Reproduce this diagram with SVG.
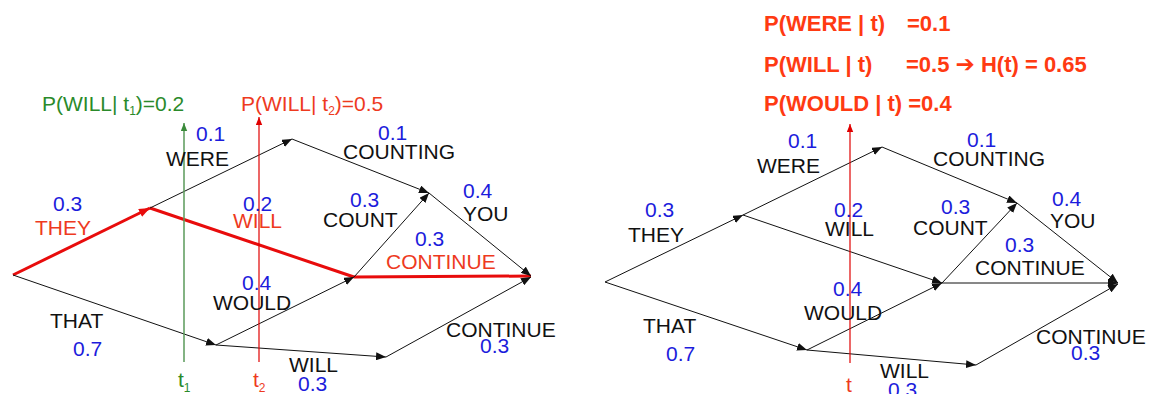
<svg xmlns="http://www.w3.org/2000/svg" width="1150" height="394" viewBox="0 0 1150 394">
<style>
text{font-family:"Liberation Sans",Arial,sans-serif;font-size:21px}
.b{fill:#1c1cdc}
.k{fill:#111}
.r{fill:#ee3a1e}
.g{fill:#2a8a2a}
.h{font-weight:bold;font-size:22px;fill:#ff3a12}
.e{stroke:#111;stroke-width:1;fill:none;marker-end:url(#ak)}
.re{stroke:#e80c0c;stroke-width:3;fill:none}
</style>
<defs>
<marker id="ak" markerUnits="userSpaceOnUse" viewBox="0 0 10 8" refX="10" refY="4" markerWidth="10" markerHeight="8" orient="auto"><path d="M0,0 L10,4 L0,8 Z" fill="#111"/></marker>
<marker id="ar" markerUnits="userSpaceOnUse" viewBox="0 0 10 8" refX="10" refY="4" markerWidth="11" markerHeight="9" orient="auto"><path d="M0,0 L10,4 L0,8 Z" fill="#e80c0c"/></marker>
<marker id="ag" markerUnits="userSpaceOnUse" viewBox="0 0 10 8" refX="10" refY="4" markerWidth="8" markerHeight="7" orient="auto"><path d="M0,0 L10,4 L0,8 Z" fill="#3a8a3a"/></marker>
<marker id="ar2" markerUnits="userSpaceOnUse" viewBox="0 0 10 8" refX="10" refY="4" markerWidth="8" markerHeight="7" orient="auto"><path d="M0,0 L10,4 L0,8 Z" fill="#e00000"/></marker>
</defs>

<g id="connectors">
<!-- left diagram -->
<line class="re" x1="13" y1="275" x2="150" y2="208" style="marker-end:url(#ar)"/>
<line class="re" x1="150" y1="208" x2="354" y2="277"/>
<line class="re" x1="354" y1="277" x2="531" y2="276"/>
<line class="e" x1="13" y1="275" x2="216" y2="345"/>
<line class="e" x1="150" y1="208" x2="292" y2="139"/>
<line class="e" x1="292" y1="139" x2="429" y2="193"/>
<line class="e" x1="429" y1="193" x2="531" y2="276"/>
<line class="e" x1="354" y1="277" x2="429" y2="193"/>
<line class="e" x1="216" y1="345" x2="354" y2="277"/>
<line class="e" x1="216" y1="345" x2="386" y2="357"/>
<line class="e" x1="386" y1="357" x2="531" y2="277"/>
<line x1="184" y1="362" x2="184" y2="123" stroke="#5a9a5a" stroke-width="1.5" marker-end="url(#ag)"/>
<line x1="259" y1="362" x2="259" y2="117" stroke="#e00000" stroke-width="1.2" marker-end="url(#ar2)"/>
<!-- right diagram -->
<line class="e" x1="605" y1="282" x2="743" y2="215"/>
<line class="e" x1="605" y1="282" x2="807" y2="350"/>
<line class="e" x1="743" y1="215" x2="882" y2="147"/>
<line class="e" x1="743" y1="215" x2="942" y2="283"/>
<line class="e" x1="882" y1="147" x2="1017" y2="203"/>
<line class="e" x1="1017" y1="203" x2="1118" y2="283"/>
<line class="e" x1="942" y1="283" x2="1017" y2="203"/>
<line class="e" x1="942" y1="283" x2="1118" y2="283"/>
<line class="e" x1="807" y1="350" x2="942" y2="283"/>
<line class="e" x1="807" y1="350" x2="976" y2="365"/>
<line class="e" x1="976" y1="365" x2="1118" y2="284"/>
<line x1="850" y1="363" x2="850" y2="124" stroke="#e00000" stroke-width="1.2" marker-end="url(#ar2)"/>
</g>

<g id="left-labels">
<text class="g" x="42" y="111">P(WILL| t<tspan font-size="12" dy="4">1</tspan><tspan dy="-4">)=0.2</tspan></text>
<text class="r" x="241" y="111">P(WILL| t<tspan font-size="12" dy="4">2</tspan><tspan dy="-4">)=0.5</tspan></text>
<g id="l-were"><text class="b" x="196" y="141">0.1</text><text class="k" x="166" y="166">WERE</text></g>
<g id="l-they"><text class="b" x="53" y="211">0.3</text><text class="r" x="35" y="235">THEY</text></g>
<g id="l-will"><text class="b" x="243" y="211">0.2</text><text class="r" x="233" y="228">WILL</text></g>
<g id="l-counting"><text class="b" x="378" y="140">0.1</text><text class="k" x="343" y="159">COUNTING</text></g>
<g id="l-count"><text class="b" x="350" y="207">0.3</text><text class="k" x="323" y="227">COUNT</text></g>
<g id="l-you"><text class="b" x="463" y="198">0.4</text><text class="k" x="463" y="221">YOU</text></g>
<g id="l-continue"><text class="b" x="415" y="246">0.3</text><text class="r" x="386" y="269">CONTINUE</text></g>
<g id="l-would"><text class="b" x="242" y="290">0.4</text><text class="k" x="213" y="310">WOULD</text></g>
<g id="l-that"><text class="k" x="50" y="328">THAT</text><text class="b" x="73" y="356">0.7</text></g>
<g id="l-will2"><text class="k" x="289" y="372">WILL</text><text class="b" x="298" y="391">0.3</text></g>
<g id="l-continue2"><text class="k" x="446" y="337">CONTINUE</text><text class="b" x="480" y="353">0.3</text></g>
<text class="g" x="178" y="387">t<tspan font-size="12" dy="5">1</tspan></text>
<text class="r" x="253" y="387">t<tspan font-size="12" dy="5">2</tspan></text>
</g>

<g id="right-labels">
<text class="h" x="764" y="31">P(WERE | t)</text><text class="h" x="907" y="31">=0.1</text>
<text class="h" x="764" y="72">P(WILL | t)</text><text class="h" x="906" y="72">=0.5 <tspan font-family="DejaVu Sans,sans-serif" font-size="23">➔</tspan> H(t) = 0.65</text>
<text class="h" x="764" y="111">P(WOULD | t) =0.4</text>
<g id="r-were"><text class="b" x="788" y="148">0.1</text><text class="k" x="757" y="173">WERE</text></g>
<g id="r-they"><text class="b" x="645" y="217">0.3</text><text class="k" x="628" y="242">THEY</text></g>
<g id="r-will"><text class="b" x="834" y="217">0.2</text><text class="k" x="825" y="236">WILL</text></g>
<g id="r-counting"><text class="b" x="967" y="147">0.1</text><text class="k" x="933" y="166">COUNTING</text></g>
<g id="r-count"><text class="b" x="941" y="214">0.3</text><text class="k" x="913" y="235">COUNT</text></g>
<g id="r-you"><text class="b" x="1052" y="206">0.4</text><text class="k" x="1050" y="228">YOU</text></g>
<g id="r-continue"><text class="b" x="1005" y="252">0.3</text><text class="k" x="975" y="275">CONTINUE</text></g>
<g id="r-would"><text class="b" x="833" y="296">0.4</text><text class="k" x="804" y="320">WOULD</text></g>
<g id="r-that"><text class="k" x="643" y="333">THAT</text><text class="b" x="666" y="361">0.7</text></g>
<g id="r-will2"><text class="k" x="880" y="378">WILL</text><text class="b" x="888" y="397">0.3</text></g>
<g id="r-continue2"><text class="k" x="1036" y="344">CONTINUE</text><text class="b" x="1071" y="360">0.3</text></g>
<text class="r" x="846" y="392">t</text>
</g>
</svg>
